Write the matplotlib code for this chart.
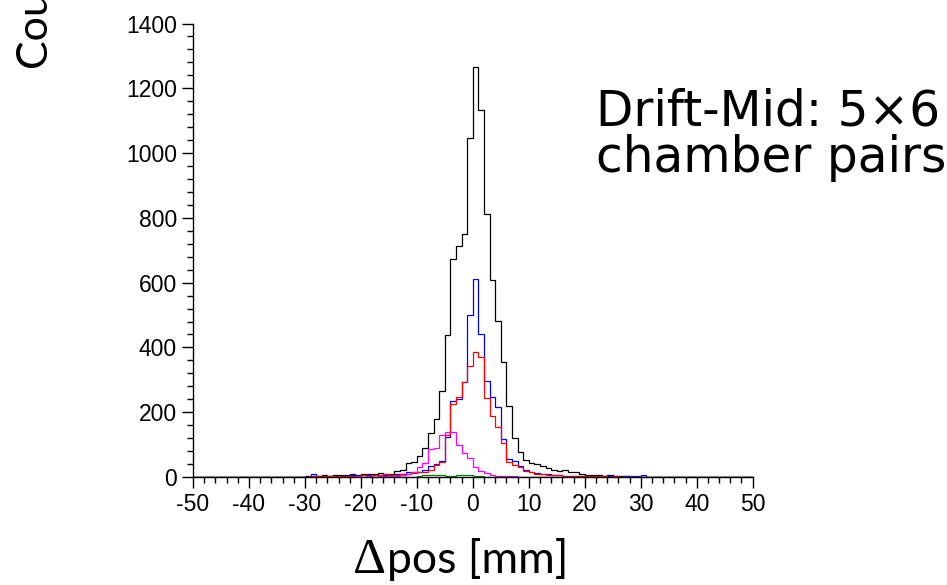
import numpy as np
import matplotlib
matplotlib.use("Agg")
import matplotlib.pyplot as plt
from matplotlib.ticker import MultipleLocator

plt.rcParams['axes.unicode_minus'] = False

# histogram bins: 1 mm wide; listed values cover left edges -30 .. 31
x_min, x_max = -50, 50
first_edge = -30

black = [2, 4, 3, 5, 4, 5, 6, 5, 8, 5,
         8, 10, 8, 13, 10, 8, 20, 22, 42, 46,
         64, 89, 137, 180, 266, 439, 674, 713, 751, 1048,
         1267, 1134, 812, 607, 481, 356, 218, 120, 77, 52,
         44, 39, 33, 27, 22, 19, 21, 16, 14, 8,
         6, 5, 6, 4, 5, 3, 2, 2, 1, 1,
         0, 0]
blue = [0, 8, 3, 2, 3, 4, 3, 4, 5, 4,
        6, 5, 6, 5, 7, 6, 8, 10, 15, 17,
        17, 23, 33, 40, 50, 122, 235, 240, 292, 499,
        610, 443, 297, 247, 215, 117, 55, 48, 35, 23,
        16, 12, 10, 8, 6, 5, 4, 4, 3, 3,
        2, 3, 2, 2, 2, 3, 1, 2, 3, 2,
        5, 0]
red = [1, 2, 3, 2, 3, 2, 3, 4, 3, 4,
       5, 4, 6, 5, 8, 6, 7, 8, 10, 12,
       15, 16, 23, 37, 45, 129, 225, 247, 292, 343,
       386, 369, 245, 189, 153, 104, 45, 37, 30, 20,
       14, 10, 8, 7, 5, 5, 4, 3, 4, 3,
       2, 2, 3, 2, 1, 2, 1, 1, 0, 1,
       0, 0]
magenta = [0, 1, 0, 1, 1, 0, 1, 1, 1, 2,
           1, 2, 1, 2, 2, 2, 3, 5, 8, 14,
           30, 44, 85, 89, 131, 140, 140, 100, 73, 60,
           30, 18, 12, 6, 4, 3, 3, 2, 1, 1,
           1, 1, 0, 1, 0, 0, 0, 0, 0, 0,
           0, 0, 0, 0, 0, 0, 0, 0, 0, 0,
           0, 0]
green = [0, 0, 0, 0, 0, 0, 0, 1, 0, 0,
         1, 0, 1, 0, 1, 1, 1, 1, 1, 1,
         2, 6, 7, 7, 6, 2, 4, 6, 6, 5,
         2, 2, 1, 1, 0, 0, 1, 0, 0, 0,
         0, 0, 0, 0, 0, 0, 0, 0, 0, 0,
         0, 0, 0, 0, 0, 0, 0, 0, 0, 0,
         0, 0]

series = [(black, 'black'), (blue, '#0000ff'), (red, '#ff0000'),
          (magenta, '#ff00ff'), (green, '#008000')]

xticks = [-50, -40, -30, -20, -10, 0, 10, 20, 30, 40, 50]
yticks = [0, 200, 400, 600, 800, 1000, 1200, 1400]

fig = plt.figure(figsize=(9.47, 5.85), dpi=100)
ax = fig.add_axes([0.2038, 0.1846, 0.591, 0.7752])

edges = np.arange(x_min, x_max + 1)
for vals, col in series:
    full = np.zeros(len(edges) - 1)
    start = first_edge - x_min
    full[start:start + len(vals)] = vals
    ax.stairs(full, edges, color=col, lw=0.9, baseline=None)

ax.set_xlim(x_min, x_max)
ax.set_ylim(0, 1400)
for s in ['top', 'right']:
    ax.spines[s].set_visible(False)
ax.spines['left'].set_linewidth(1.0)
ax.spines['bottom'].set_linewidth(1.0)

ax.set_xticks(xticks)
ax.set_xticklabels([str(t) for t in xticks])
ax.set_yticks(yticks)
ax.set_yticklabels([str(t) for t in yticks])
ax.xaxis.set_minor_locator(MultipleLocator(2))
ax.yaxis.set_minor_locator(MultipleLocator(40))
ax.tick_params(which='major', direction='out', length=8, width=1.0, pad=3.5)
ax.tick_params(which='minor', direction='out', length=4.5, width=1.0)
for lab in ax.get_xticklabels() + ax.get_yticklabels():
    lab.set_fontfamily('Liberation Sans')
    lab.set_fontsize(16.5)

# x-axis title: Delta in a symbol-like serif face, then the rest
fig.text(386 / 947, 1 - 573 / 585, '\u0394', ha='right', va='baseline',
         fontsize=37, family='Liberation Serif')
fig.text(387 / 947, 1 - 573 / 585, 'pos [mm]', ha='left', va='baseline',
         fontsize=32, family='Lato')
fig.text(0.016, 0.885, 'Counts', rotation=90, ha='left', va='bottom',
         fontsize=31, family='Lato')
fig.text(596 / 947, 1 - 125 / 585, 'Drift-Mid: 5\u00d76', ha='left', va='baseline',
         fontsize=35, family='DejaVu Sans')
fig.text(596 / 947, 1 - 172 / 585, 'chamber pairs', ha='left', va='baseline',
         fontsize=35, family='DejaVu Sans')

fig.savefig('out.png', dpi=100)
